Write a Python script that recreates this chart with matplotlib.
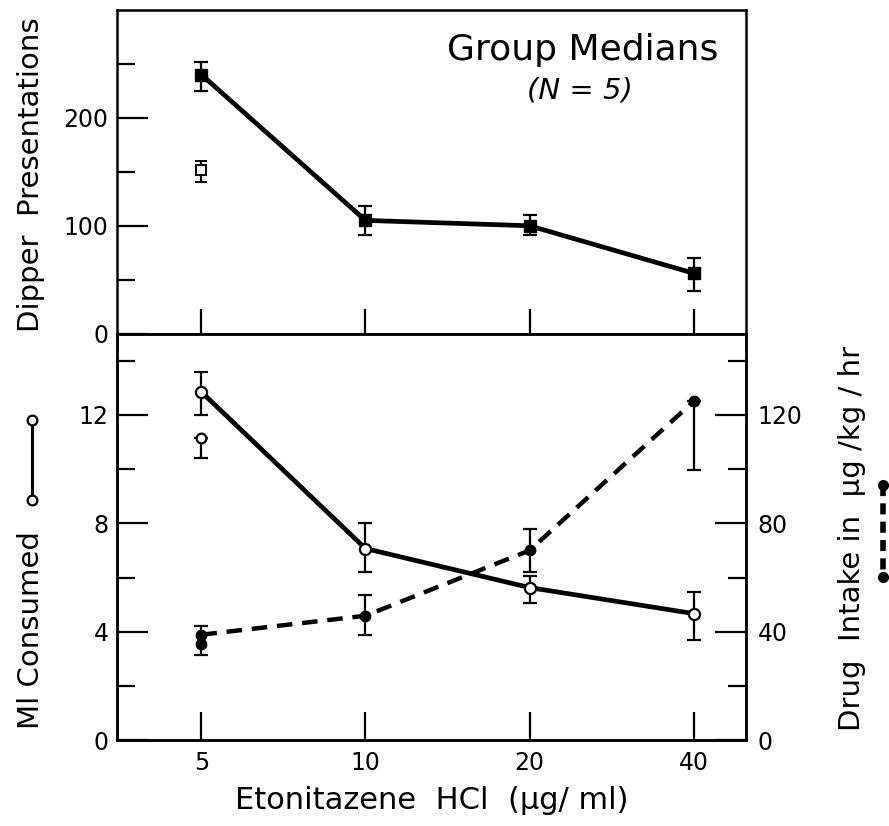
import numpy as np
import matplotlib.pyplot as plt
from matplotlib.lines import Line2D
from matplotlib.ticker import FixedLocator, NullLocator, FixedFormatter

plt.rcParams['font.family'] = ['DejaVu Sans']

# dose of etonitazene (ug/ml)
conc = [5, 10, 20, 40]
conc_labels = ['5', '10', '20', '40']

# top panel: dipper presentations (filled squares)
dipper = [240, 105, 100, 56]
dipper_lo = [225, 91, 91, 40]
dipper_hi = [252, 118, 110, 70]
# extra open square at 5 ug/ml
dipper_open = [152]
dipper_open_lo = [141]
dipper_open_hi = [160]

# bottom panel: ml consumed (open circles, left axis)
ml = [12.85, 7.07, 5.63, 4.67]
ml_lo = [12.0, 6.2, 5.07, 3.7]
ml_hi = [13.6, 8.0, 6.04, 5.48]
ml_open = [11.15]
ml_open_lo = [10.4]
ml_open_hi = [11.15]

# drug intake ug/kg/hr (filled circles, right axis)
drug = [38.9, 45.9, 70, 125]
drug_lo = [31.5, 38.9, 62, 99.6]
drug_hi = [42, 53.7, 77.8, 125]
drug_extra = [35.5]

fig = plt.figure(figsize=(8.89, 8.26), dpi=100)
ax1 = fig.add_axes([0.1316, 0.596, 0.708, 0.392])
ax2 = fig.add_axes([0.1316, 0.104, 0.708, 0.492])
ax3 = ax2.twinx()

for ax in (ax1, ax2, ax3):
    for s in ax.spines.values():
        s.set_linewidth(1.8)
    ax.set_xscale('log', base=2)
    ax.set_xlim(3.5, 50)
    ax.xaxis.set_major_locator(FixedLocator(conc))
    ax.xaxis.set_minor_locator(NullLocator())

# ---- top panel
ax1.errorbar(conc, dipper, yerr=[np.subtract(dipper, dipper_lo), np.subtract(dipper_hi, dipper)],
             fmt='s-', color='k', ms=8, lw=3.4, elinewidth=1.6, capsize=5, capthick=1.6)
ax1.errorbar([5], dipper_open, yerr=[np.subtract(dipper_open, dipper_open_lo), np.subtract(dipper_open_hi, dipper_open)],
             fmt='s', color='k', mfc='white', ms=6.5, mew=1.4, elinewidth=1.6, capsize=4, capthick=1.6)
ax1.set_ylim(0, 300)
ax1.set_yticks([0, 100, 200])
ax1.set_yticks([50, 150, 250], minor=True)
ax1.tick_params(axis='y', which='major', direction='in', length=22, width=1.6, labelsize=17, pad=6)
ax1.tick_params(axis='y', which='minor', direction='in', length=13, width=1.6)
ax1.tick_params(axis='x', which='major', direction='in', length=18, width=1.6, labelbottom=False)
ax1.set_ylabel('Dipper  Presentations', fontsize=21)
ax1.yaxis.set_label_coords(-0.114, 0.49)
ax1.text(0.74, 0.877, 'Group Medians', transform=ax1.transAxes, ha='center', va='center', fontsize=26)
ax1.text(0.735, 0.752, '(N = 5)', transform=ax1.transAxes, ha='center', va='center', fontsize=21, style='italic')

# ---- bottom panel, ml consumed
ax2.errorbar(conc, ml, yerr=[np.subtract(ml, ml_lo), np.subtract(ml_hi, ml)],
             fmt='o-', color='k', mfc='white', ms=8, mew=1.6, lw=3.4, elinewidth=1.6, capsize=5, capthick=1.6, zorder=3)
ax2.errorbar([5], ml_open, yerr=[np.subtract(ml_open, ml_open_lo), np.subtract(ml_open_hi, ml_open)],
             fmt='o', color='k', mfc='white', ms=7, mew=1.6, elinewidth=1.6, capsize=5, capthick=1.6)
ax2.set_ylim(0, 15)
ax2.set_yticks([0, 4, 8, 12])
ax2.set_yticks([2, 6, 10, 14], minor=True)
ax2.tick_params(axis='y', which='major', direction='in', length=22, width=1.6, labelsize=17, pad=6)
ax2.tick_params(axis='y', which='minor', direction='in', length=13, width=1.6)
ax2.tick_params(axis='x', which='major', direction='in', length=20, width=1.6, labelsize=17, pad=8)
ax2.xaxis.set_major_formatter(FixedFormatter(conc_labels))
ax2.set_xlabel('Etonitazene  HCl  (µg/ ml)', fontsize=22, labelpad=8)
ax2.set_ylabel('Ml Consumed', fontsize=21)
ax2.yaxis.set_label_coords(-0.114, 0.27)

# ---- bottom panel, drug intake
l, = ax3.plot(conc, drug, '-', color='k', lw=3.2, dashes=(3.5, 2.2))
ax3.errorbar(conc, drug, yerr=[np.subtract(drug, drug_lo), np.subtract(drug_hi, drug)],
             fmt='o', color='k', ms=7.5, elinewidth=1.6, capsize=5, capthick=1.6)
ax3.plot([5], drug_extra, 'o', color='k', ms=7.5)
ax3.set_ylim(0, 150)
ax3.set_yticks([0, 40, 80, 120])
ax3.set_yticks([20, 60, 100, 140], minor=True)
ax3.tick_params(axis='y', which='major', direction='in', length=22, width=1.6, labelsize=17, pad=8)
ax3.tick_params(axis='y', which='minor', direction='in', length=13, width=1.6)
ax3.tick_params(axis='x', which='both', bottom=False, top=False, labelbottom=False)
ax3.set_ylabel('Drug  Intake in  µg /kg / hr', fontsize=21)
ax3.yaxis.set_label_coords(1.145, 0.497)

# legend glyphs next to the axis labels
fig.add_artist(Line2D([0.036, 0.036], [0.4915, 0.395], transform=fig.transFigure, color='k', lw=2.2,
                      marker='o', ms=7, mfc='white', mew=1.6))
fig.add_artist(Line2D([0.993, 0.993], [0.413, 0.301], transform=fig.transFigure, color='k', lw=4,
                      dashes=(2.0, 1.3), marker='o', ms=7))

fig.savefig('out.png', dpi=100)
